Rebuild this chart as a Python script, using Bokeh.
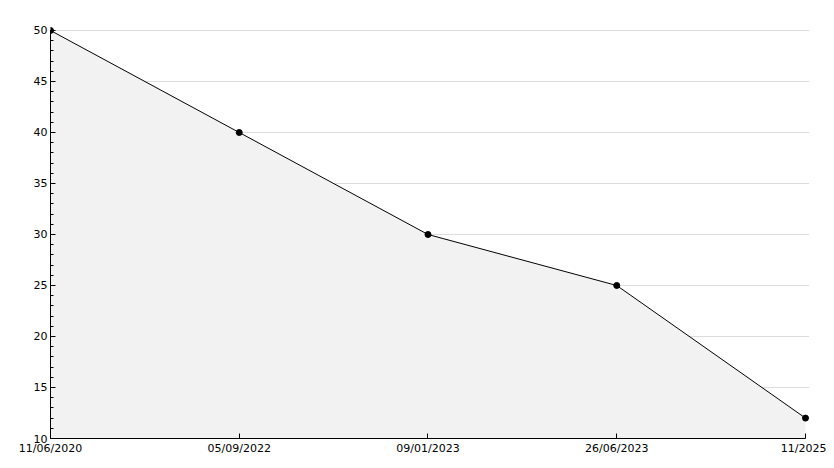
from bokeh.plotting import figure
from bokeh.models import Range1d, SingleIntervalTicker, FixedTicker, ColumnDataSource
from bokeh.embed import file_html
from bokeh.resources import INLINE

dates = ["11/06/2020", "05/09/2022", "09/01/2023", "26/06/2023", "11/2025"]
values = [50, 40, 30, 25, 12]
xs = list(range(len(dates)))

src = ColumnDataSource(dict(x=xs, y=values, base=[10] * len(xs)))

# small padding beyond the last point / top value so markers are not clipped
p = figure(width=826, height=460, output_backend="svg", toolbar_location=None,
           x_range=Range1d(0, 4.0212), y_range=Range1d(10, 50.392),
           min_border_left=50, min_border_right=17, min_border_top=26, min_border_bottom=22)
p.outline_line_color = None
p.background_fill_color = "white"

p.varea(x="x", y1="base", y2="y", source=src, fill_color="#f2f2f2")
p.line(x="x", y="y", source=src, line_color="black", line_width=1)
p.scatter(x="x", y="y", source=src, marker="circle", size=6, fill_color="black", line_color="black")

p.xaxis.ticker = FixedTicker(ticks=xs)
p.xaxis.major_label_overrides = {i: d for i, d in enumerate(dates)}
p.yaxis.ticker = SingleIntervalTicker(interval=5, num_minor_ticks=5)
p.xaxis.bounds = (0, len(dates) - 1)
p.yaxis.bounds = (10, 50)

for ax in (p.xaxis[0], p.yaxis[0]):
    ax.axis_line_color = "black"
    ax.major_tick_in = 5
    ax.major_tick_out = 0
    ax.minor_tick_in = 3
    ax.minor_tick_out = 0
    ax.major_label_text_font = "DejaVu Sans"
    ax.major_label_text_font_size = "11px"
    ax.major_label_text_color = "black"
    ax.major_label_standoff = 3
p.xaxis.minor_tick_line_color = None

p.xgrid.grid_line_color = None
p.ygrid.grid_line_color = "#dddddd"

open("out.html", "w").write(file_html(p, INLINE))
